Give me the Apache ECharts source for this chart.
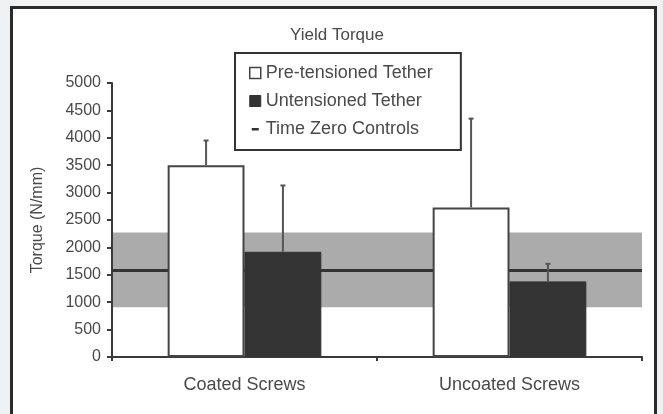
<!DOCTYPE html>
<html>
<head>
<meta charset="utf-8">
<style>
  html, body { margin: 0; padding: 0; background: #f0f1f3; }
  #chart { width: 663px; height: 414px; }
</style>
<script src="https://cdn.jsdelivr.net/npm/echarts@6/dist/echarts.min.js"></script>
</head>
<body>
<div id="chart"></div>
<script>
// Yield torque per screw type, mean and upper SD (N/mm)
const categories = ['Coated Screws', 'Uncoated Screws'];
const preTensioned = [3500, 2730];
const preTensionedErr = [3950, 4350];      // top of error whisker
const untensioned = [1920, 1380];
const untensionedErr = [3130, 1700];       // top of error whisker
const controlMean = 1590;                  // time zero controls
const controlRange = [910, 2270];          // shaded band
const yTicks = { min: 0, max: 5000, step: 500 };

const FONT = '"Liberation Sans", Arial, sans-serif';
const TEXT = '#4a4a4a';
const INK = '#3a3a3a';
const BAR_FRACTION = 0.29;

function errorSeries(name, means, tops, side) {
  return {
    name: name,
    type: 'custom',
    z: 4,
    silent: true,
    data: means.map((m, i) => [i, m, tops[i]]),
    renderItem: function (params, api) {
      const band = api.size([1, 0])[0];
      const half = band * BAR_FRACTION / 2;
      const base = api.coord([api.value(0), api.value(1)]);
      const top = api.coord([api.value(0), api.value(2)]);
      const x = base[0] + side * half;
      return {
        type: 'group',
        children: [
          { type: 'line', shape: { x1: x, y1: base[1], x2: x, y2: top[1] },
            style: { stroke: '#555', lineWidth: 2 } },
          { type: 'line', shape: { x1: x - 2.5, y1: top[1], x2: x + 2.5, y2: top[1] },
            style: { stroke: '#555', lineWidth: 2 } }
        ]
      };
    }
  };
}

const chart = echarts.init(document.getElementById('chart'));
chart.setOption({
  backgroundColor: '#f0f1f3',
  animation: false,
  textStyle: { fontFamily: FONT },
  graphic: [{
    type: 'rect',
    z: -10,
    shape: { x: 11.5, y: 7.5, width: 644, height: 430 },
    style: { fill: '#ffffff', stroke: '#2b2b2b', lineWidth: 3 }
  }],
  title: {
    text: 'Yield Torque',
    left: 332,
    top: 22,
    textAlign: 'center',
    textStyle: { fontFamily: FONT, fontSize: 17, fontWeight: 'normal', color: TEXT }
  },
  legend: {
    orient: 'vertical',
    left: 235,
    top: 53,
    padding: [11, 28, 12, 14],
    itemGap: 10,
    itemWidth: 11,
    itemHeight: 11,
    borderColor: '#333',
    borderWidth: 2,
    backgroundColor: '#ffffff',
    textStyle: { fontFamily: FONT, fontSize: 18, color: TEXT },
    data: [
      { name: 'Pre-tensioned Tether', icon: 'rect',
        itemStyle: { color: '#ffffff', borderColor: '#444', borderWidth: 1.5 } },
      { name: 'Untensioned Tether', icon: 'rect',
        itemStyle: { color: '#333333', borderColor: '#333', borderWidth: 1 } },
      { name: 'Time Zero Controls', icon: 'path://M0,0M11,11M2,4.5L9,4.5L9,7L2,7Z',
        itemStyle: { color: '#333333', borderWidth: 0 } }
    ]
  },
  grid: { left: 112, right: 21, top: 83, bottom: 57, containLabel: false },
  xAxis: {
    type: 'category',
    data: categories,
    boundaryGap: true,
    axisLine: { lineStyle: { color: INK, width: 2 } },
    axisTick: { show: true, interval: 0, length: 4, lineStyle: { color: INK, width: 2 } },
    axisLabel: { margin: 19, fontSize: 18, color: TEXT, fontFamily: FONT }
  },
  yAxis: {
    type: 'value',
    min: yTicks.min,
    max: yTicks.max,
    interval: yTicks.step,
    name: 'Torque (N/mm)',
    nameLocation: 'middle',
    nameRotate: 90,
    nameGap: 66,
    nameTextStyle: { fontFamily: FONT, fontSize: 16, color: TEXT },
    axisLine: { show: true, lineStyle: { color: INK, width: 2 } },
    axisTick: { show: true, length: 5, lineStyle: { color: INK, width: 2 } },
    axisLabel: { margin: 11, fontSize: 16, color: TEXT, fontFamily: FONT,
                 formatter: v => String(v) },
    splitLine: { show: false }
  },
  series: [
    {
      name: 'Time Zero Controls',
      type: 'line',
      z: 1,
      data: [],
      symbol: 'none',
      lineStyle: { color: '#333' },
      itemStyle: { color: '#333' },
      markArea: {
        silent: true,
        z: 0,
        itemStyle: { color: '#ababab' },
        data: [[{ yAxis: controlRange[0] }, { yAxis: controlRange[1] }]]
      },
      markLine: {
        silent: true,
        z: 1,
        symbol: 'none',
        label: { show: false },
        lineStyle: { color: '#333', width: 3, type: 'solid' },
        data: [{ yAxis: controlMean }]
      }
    },
    {
      name: 'Pre-tensioned Tether',
      type: 'bar',
      z: 3,
      barWidth: (BAR_FRACTION * 100) + '%',
      barGap: '0%',
      data: preTensioned,
      itemStyle: { color: '#ffffff', borderColor: '#444', borderWidth: 2 }
    },
    {
      name: 'Untensioned Tether',
      type: 'bar',
      z: 3,
      barWidth: (BAR_FRACTION * 100) + '%',
      barGap: '0%',
      data: untensioned,
      itemStyle: { color: '#333333', borderColor: '#333', borderWidth: 1 }
    },
    errorSeries('Pre-tensioned SD', preTensioned, preTensionedErr, -1),
    errorSeries('Untensioned SD', untensioned, untensionedErr, 1)
  ]
});
</script>
</body>
</html>
